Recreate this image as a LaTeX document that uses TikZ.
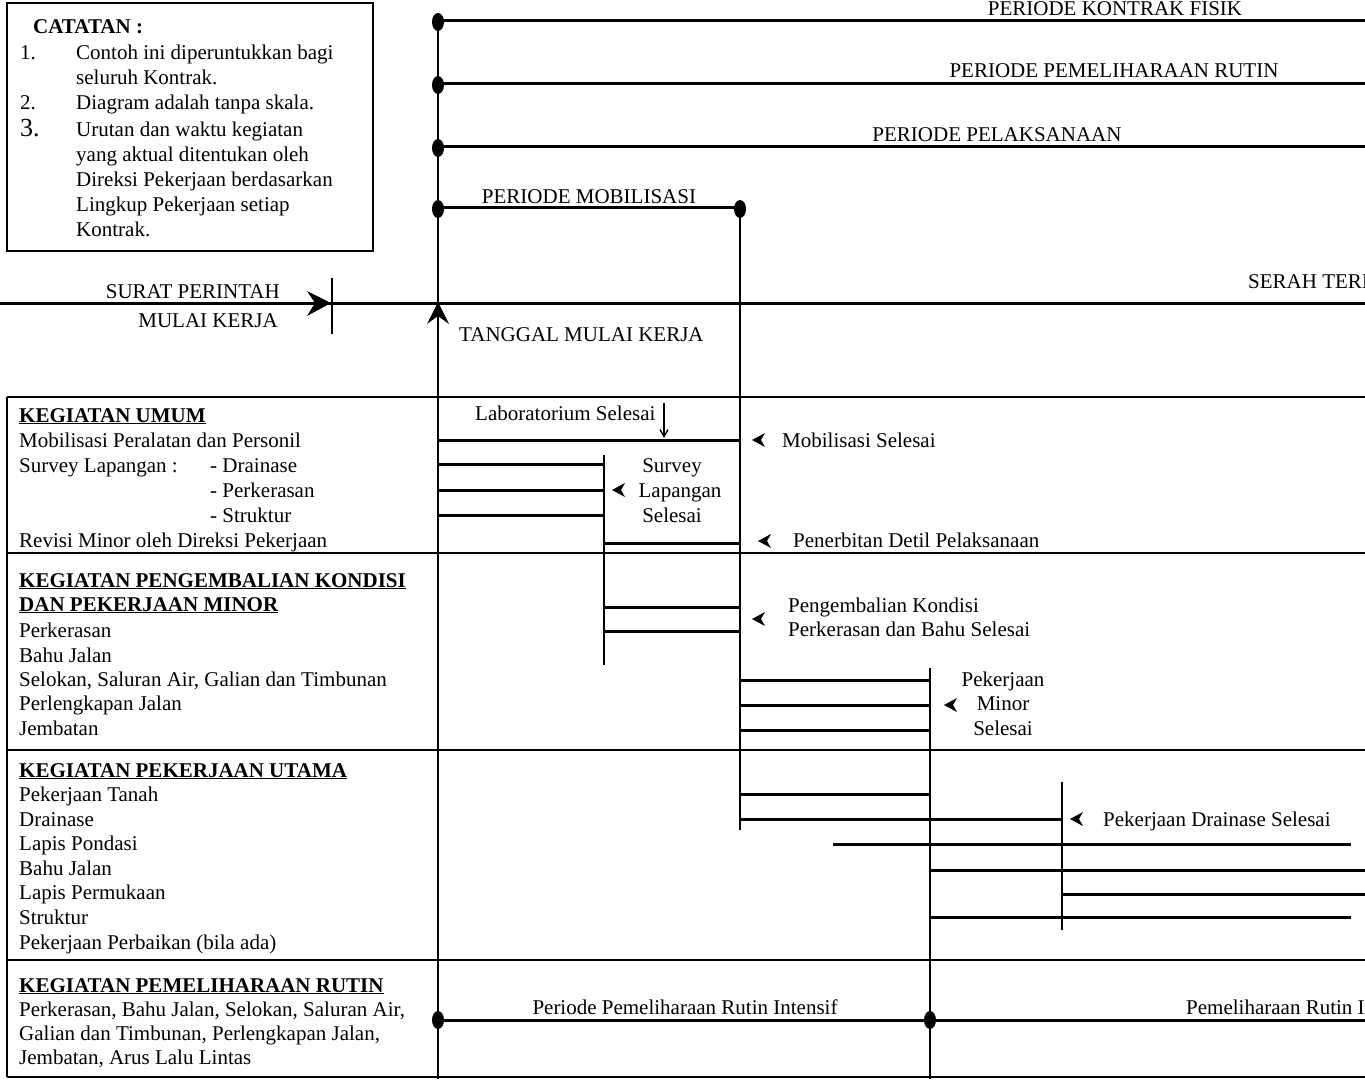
\documentclass[tikz,border=0pt]{standalone}
\usepackage{fontspec}
\setmainfont{Liberation Serif}
\usetikzlibrary{arrows.meta}
\begin{document}
\begin{tikzpicture}[x=1pt,y=-1pt,
  txt/.style={font=\fontsize{21}{25}\selectfont, inner sep=0pt, anchor=base west},
  ctxt/.style={txt, anchor=base},
  rtxt/.style={txt, anchor=base east},
  btxt/.style={txt, font=\fontsize{21}{25}\selectfont\bfseries},
  bar/.style={line width=3pt},
  frame/.style={line width=2.8pt},
  vline/.style={line width=2pt},
  dotfill/.style={fill=black},
  chev/.pic={\fill (0,0) -- (13,-7) -- (9,0) -- (13,7) -- cycle;}
]
\clip (0,0) rectangle (1365,1079);
\useasboundingbox (0,0) rectangle (1365,1079);

% ---------- notes box ----------
\draw[frame] (7,3) rectangle (373,251);
\node[btxt] (cat) at (33,33) {CATATAN :};
\node[txt] (n1) at (20,59) {1.};
\node[txt] (n1a) at (76,59) {Contoh ini diperuntukkan bagi};
\node[txt] (n1b) at (76,84) {seluruh Kontrak.};
\node[txt] (n2) at (20,109) {2.};
\node[txt] (n2a) at (76,109) {Diagram adalah tanpa skala.};
\node[txt, font=\fontsize{26}{28}\selectfont] (n3) at (20,136) {3.};
\node[txt] (n3a) at (76,136) {Urutan dan waktu kegiatan};
\node[txt] (n3b) at (76,161) {yang aktual ditentukan oleh};
\node[txt] (n3c) at (76,186) {Direksi Pekerjaan berdasarkan};
\node[txt] (n3d) at (76,211) {Lingkup Pekerjaan setiap};
\node[txt] (n3e) at (76,236) {Kontrak.};

% ---------- key coordinates ----------
\coordinate (axTop) at (438,15);
\coordinate (axBot) at (438,1079);
\coordinate (pk) at (438,20);
\coordinate (pr) at (438,83);
\coordinate (pp) at (438,146);
\coordinate (pm) at (438,207);
\coordinate (pmE) at (740,207);
\coordinate (pkR) at (1365,20);
\coordinate (prR) at (1365,83);
\coordinate (ppR) at (1365,146);

% ---------- periods ----------
\draw[vline] (axTop) -- (axBot);
\draw[bar] (pk) -- (pkR);
\draw[bar] (pr) -- (prR);
\draw[bar] (pp) -- (ppR);
\draw[bar] (pm) -- (pmE);
\foreach \c in {pk,pr,pp,pm,pmE}
  \fill[dotfill] ([yshift=-2pt]\c) ellipse [x radius=6pt, y radius=9pt];

\node[ctxt] (lpk) at (1115,15) {PERIODE KONTRAK FISIK};
\node[ctxt] (lpr) at (1114,77) {PERIODE PEMELIHARAAN RUTIN};
\node[ctxt] (lpp) at (997,141) {PERIODE PELAKSANAAN};
\node[ctxt] (lpm) at (589,203) {PERIODE MOBILISASI};
\node[txt] (serah) at (1248,288) {SERAH TERI};

% ---------- start line ----------
\coordinate (sL) at (0,303);
\coordinate (sR) at (1365,303);
\coordinate (spmk) at (332,303);
\coordinate (tmk) at (438,303);
\draw[bar] (sL) -- (sR);
\draw[vline] ([yshift=-31pt]spmk) -- ([yshift=25pt]spmk);
\fill ([xshift=-1pt]spmk) -- ++(-24,-12) -- ++(8,12) -- ++(-8,13) -- cycle;
\fill ([yshift=1pt]tmk) -- ++(11,22) -- ++(-11,-8) -- ++(-11,8) -- cycle;
\node[rtxt] (sp1) at (280,298) {SURAT PERINTAH};
\node[rtxt] (sp2) at (278,327) {MULAI KERJA};
\node[txt] (tg) at (459,341) {TANGGAL MULAI KERJA};

% ---------- table frame ----------
\draw[frame] (7,397) -- (1365,397);
\draw[frame] (7,553) -- (1365,553);
\draw[frame] (7,750) -- (1365,750);
\draw[frame] (7,960) -- (1365,960);
\draw[frame] (7,1077) -- (1365,1077);
\draw[frame] (7,397) -- (7,1077);

% ---------- vertical milestone lines ----------
\coordinate (mobT) at (740,207);
\coordinate (mobB) at (740,830);
\coordinate (svT) at (604,455);
\coordinate (svB) at (604,665);
\coordinate (mnT) at (930,668);
\coordinate (mnB) at (930,1079);
\coordinate (drT) at (1062,782);
\coordinate (drB) at (1062,930);
\draw[vline] (mobT) -- (mobB);
\draw[vline] (svT) -- (svB);
\draw[vline] (mnT) -- (mnB);
\draw[vline] (drT) -- (drB);

% ---------- left column texts ----------
\node[btxt] (h1) at (19,422) {\underline{KEGIATAN UMUM}};
\node[txt] (a1) at (19,447) {Mobilisasi Peralatan dan Personil};
\node[txt] (a2) at (19,472) {Survey Lapangan :};
\node[txt] (a2a) at (210,472) {- Drainase};
\node[txt] (a2b) at (210,497) {- Perkerasan};
\node[txt] (a2c) at (210,522) {- Struktur};
\node[txt] (a3) at (19,547) {Revisi Minor oleh Direksi Pekerjaan};

\node[btxt] (h2) at (19,587) {\underline{KEGIATAN PENGEMBALIAN KONDISI}};
\node[btxt] (h2b) at (19,611) {\underline{DAN PEKERJAAN MINOR}};
\node[txt] (b1) at (19,637) {Perkerasan};
\node[txt] (b2) at (19,662) {Bahu Jalan};
\node[txt] (b3) at (19,686) {Selokan, Saluran Air, Galian dan Timbunan};
\node[txt] (b4) at (19,710) {Perlengkapan Jalan};
\node[txt] (b5) at (19,735) {Jembatan};

\node[btxt] (h3) at (19,777) {\underline{KEGIATAN PEKERJAAN UTAMA}};
\node[txt] (c1) at (19,801) {Pekerjaan Tanah};
\node[txt] (c2) at (19,826) {Drainase};
\node[txt] (c3) at (19,850) {Lapis Pondasi};
\node[txt] (c4) at (19,875) {Bahu Jalan};
\node[txt] (c5) at (19,899) {Lapis Permukaan};
\node[txt] (c6) at (19,924) {Struktur};
\node[txt] (c7) at (19,949) {Pekerjaan Perbaikan (bila ada)};

\node[btxt] (h4) at (19,992) {\underline{KEGIATAN PEMELIHARAAN RUTIN}};
\node[txt] (d1) at (19,1016) {Perkerasan, Bahu Jalan, Selokan, Saluran Air,};
\node[txt] (d2) at (19,1040) {Galian dan Timbunan, Perlengkapan Jalan,};
\node[txt] (d3) at (19,1064) {Jembatan, Arus Lalu Lintas};

% ---------- activity bars ----------
\draw[bar] (438,440) -- (740,440);
\draw[bar] (438,464) -- (604,464);
\draw[bar] (438,490) -- (604,490);
\draw[bar] (438,515) -- (604,515);
\draw[bar] (604,543) -- (740,543);
\draw[bar] (604,607) -- (740,607);
\draw[bar] (604,631) -- (740,631);
\draw[bar] (740,680) -- (930,680);
\draw[bar] (740,705) -- (930,705);
\draw[bar] (740,730) -- (930,730);
\draw[bar] (740,794) -- (930,794);
\draw[bar] (740,819) -- (1062,819);
\draw[bar] (833,844) -- (1351,844);
\draw[bar] (930,870) -- (1365,870);
\draw[bar] (1062,894) -- (1365,894);
\draw[bar] (930,917) -- (1351,917);

% maintenance
\coordinate (rtA) at (438,1020);
\coordinate (rtB) at (930,1020);
\coordinate (rtC) at (1365,1020);
\draw[bar] (rtA) -- (rtC);
\foreach \c in {rtA,rtB}
  \fill[dotfill] (\c) ellipse [x radius=6pt, y radius=9pt];
\node[ctxt] (rt1) at (685,1014) {Periode Pemeliharaan Rutin Intensif};
\node[txt] (rt2) at (1186,1014) {Pemeliharaan Rutin I};

% ---------- milestone labels ----------
\node[txt] (lab) at (475,420) {Laboratorium Selesai};
\coordinate (labT) at (664,403);
\coordinate (labB) at (664,438);
\draw[line width=1.4pt, -{Straight Barb[length=7pt,width=8pt]}] (labT) -- (labB);

\pic at (752,440) {chev};
\node[txt] (m1) at (782,447) {Mobilisasi Selesai};

\pic at (612,490) {chev};
\node[ctxt] (s1) at (672,472) {Survey};
\node[ctxt] (s2) at (680,497) {Lapangan};
\node[ctxt] (s3) at (672,522) {Selesai};

\pic at (758,541) {chev};
\node[txt] (pd) at (793,547) {Penerbitan Detil Pelaksanaan};

\pic at (752,619) {chev};
\node[txt] (pg1) at (788,612) {Pengembalian Kondisi};
\node[txt] (pg2) at (788,636) {Perkerasan dan Bahu Selesai};

\pic at (944,705) {chev};
\node[ctxt] (pm1) at (1003,686) {Pekerjaan};
\node[ctxt] (pm2) at (1003,710) {Minor};
\node[ctxt] (pm3) at (1003,735) {Selesai};

\pic at (1070,819) {chev};
\node[txt] (pds) at (1103,826) {Pekerjaan Drainase Selesai};
\end{tikzpicture}
\end{document}
